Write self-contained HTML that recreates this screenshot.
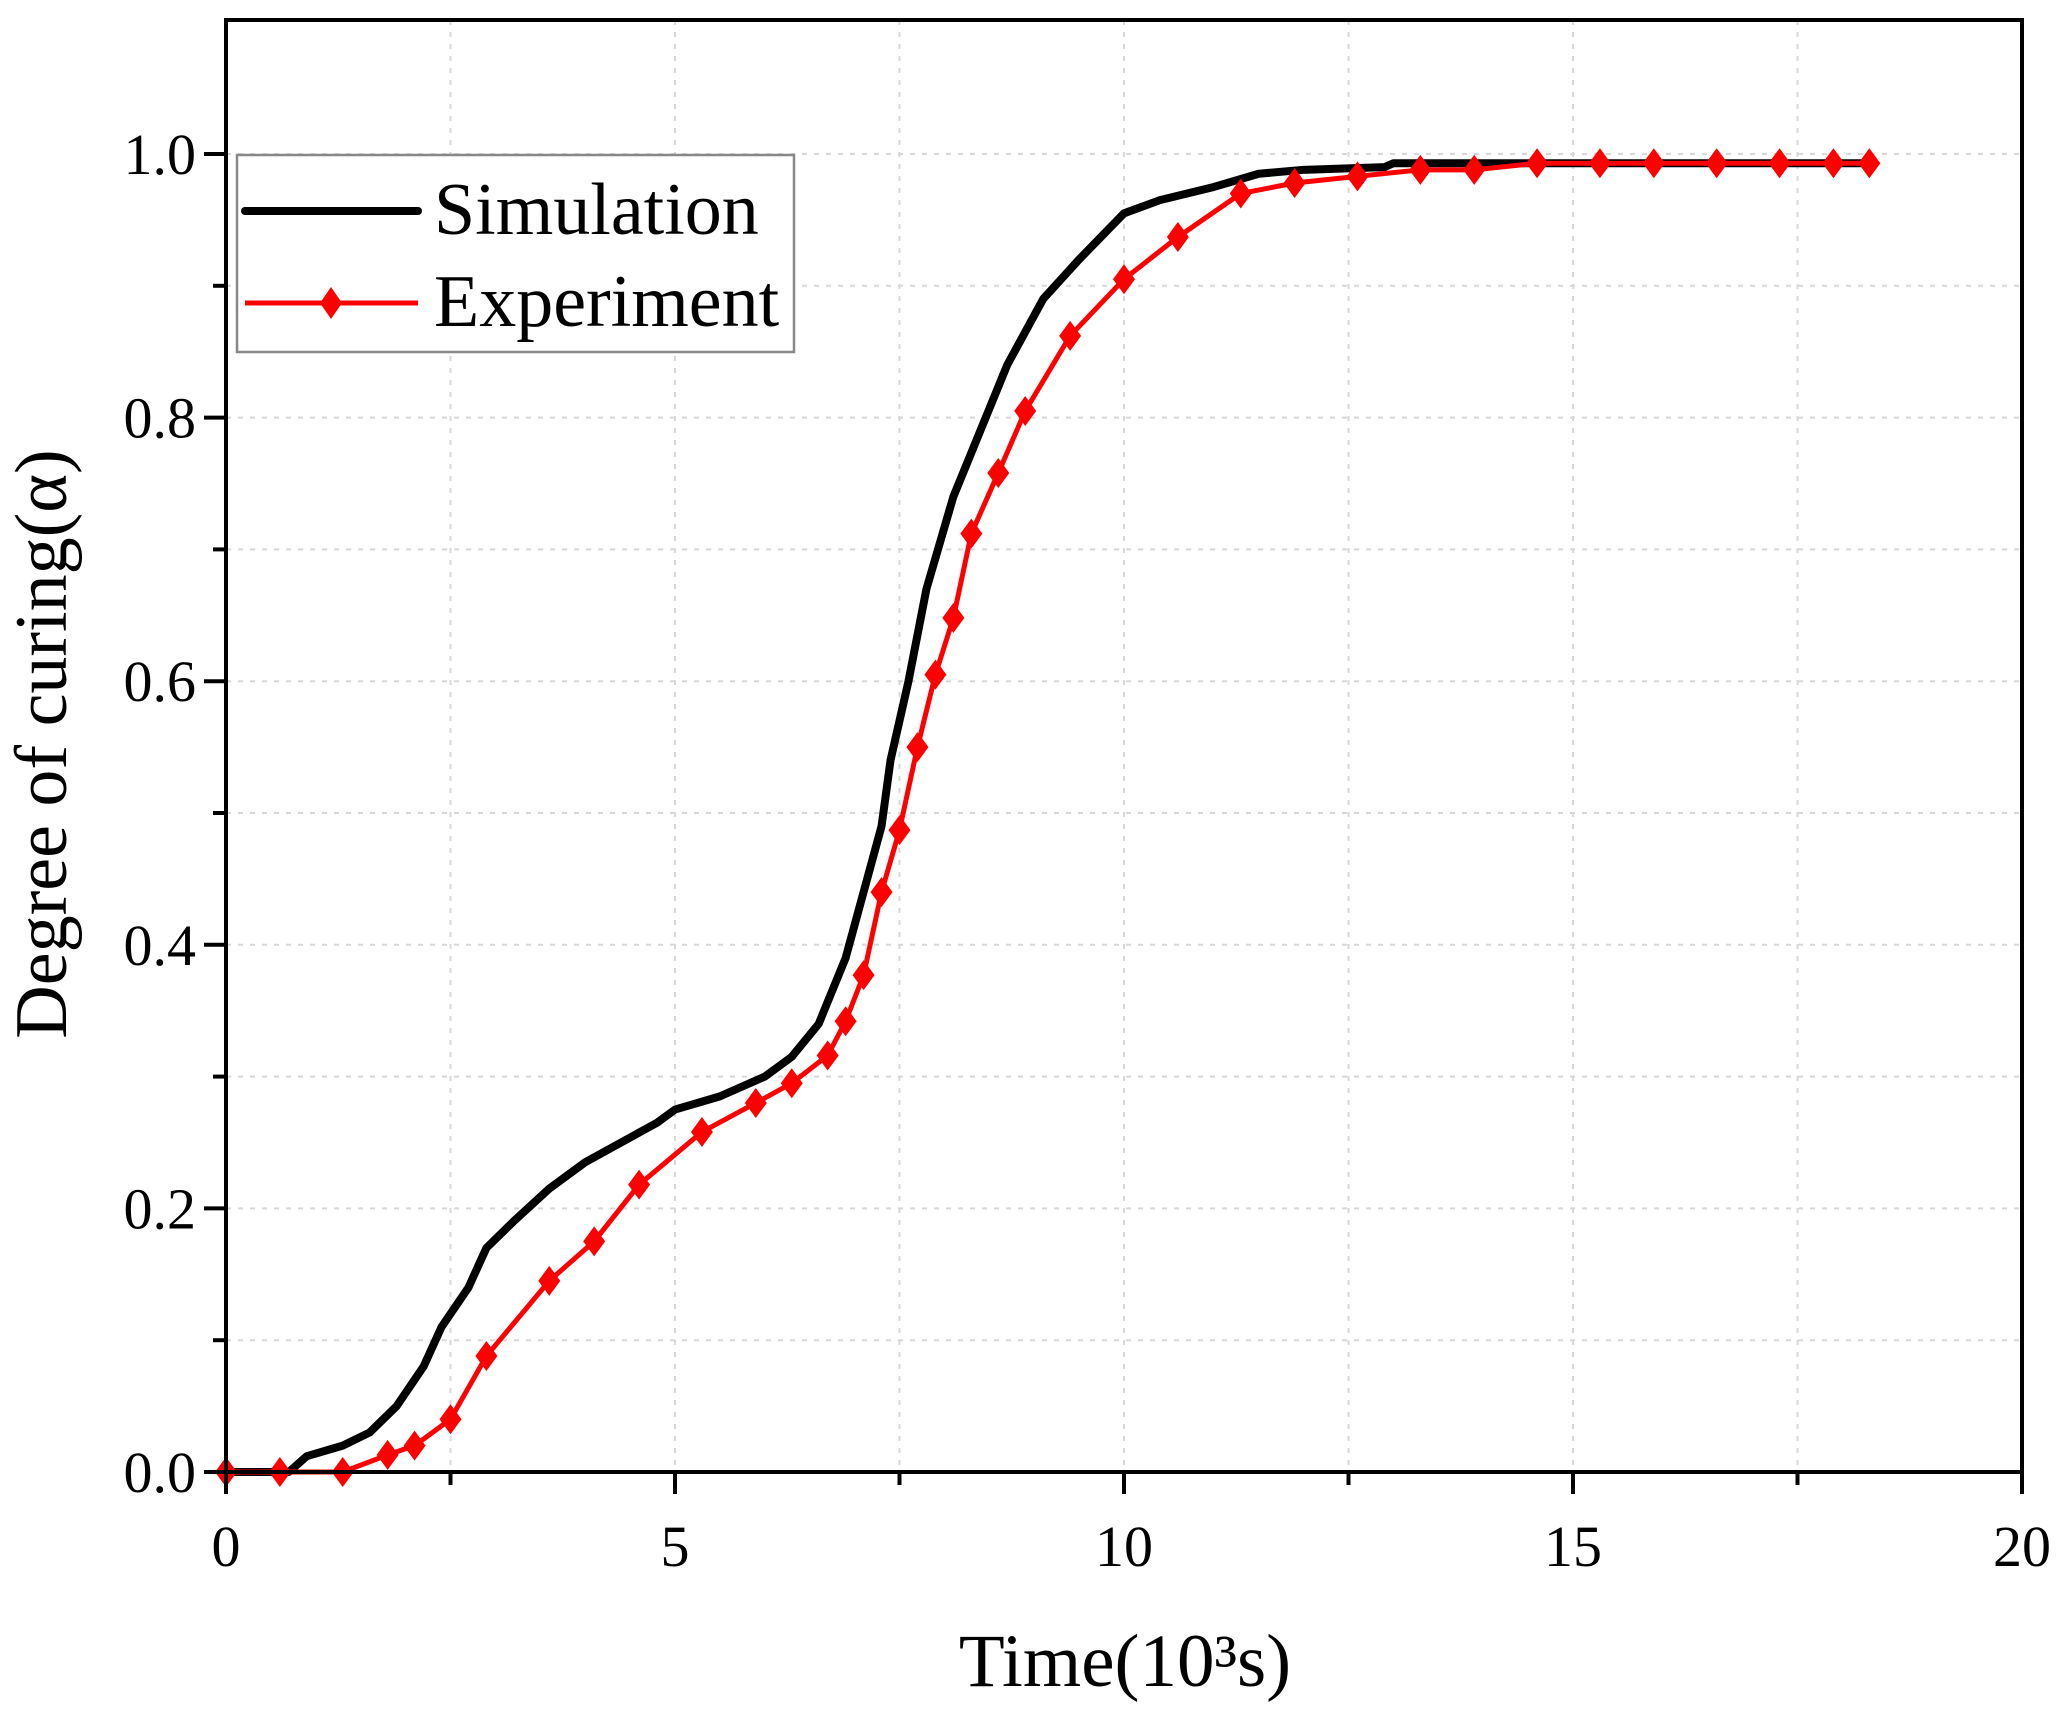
<!DOCTYPE html>
<html><head><meta charset="utf-8"><style>
html,body{margin:0;padding:0;background:#fff;}
svg text{font-family:"Liberation Serif",serif;fill:#000;}
</style></head><body>
<svg id="chart" width="2064" height="1714" viewBox="0 0 2064 1714" xmlns="http://www.w3.org/2000/svg">
<g id="grid"></g>
<g id="series"></g>
<g id="axes"></g>
<text x="1125" y="1686" font-size="75" text-anchor="middle">Time(10³s)</text>
<text transform="translate(66,744) rotate(-90)" font-size="74" text-anchor="middle">Degree of curing(α)</text>
<g>
<rect x="237" y="155" width="557" height="197" fill="#fff" stroke="#888" stroke-width="2.5"/>
<line x1="245" y1="211" x2="418" y2="211" stroke="#000" stroke-width="8" stroke-linecap="round"/>
<text x="434" y="234" font-size="74">Simulation</text>
<line x1="245" y1="303" x2="418" y2="303" stroke="#f00" stroke-width="5"/>
<path d="M331 287 L342 303 L331 319 L320 303 Z" fill="#f00"/>
<text x="434" y="326" font-size="74">Experiment</text>
</g>
</svg>
<script>
const xTicks=[0,5,10,15,20];
const yTicks=[0.0,0.2,0.4,0.6,0.8,1.0];
const simX=[0,0.7,0.9,1.3,1.6,1.9,2.2,2.4,2.7,2.9,3.2,3.6,4,4.4,4.8,5,5.5,6,6.3,6.6,6.9,7.1,7.3,7.4,7.6,7.8,8.1,8.4,8.7,9.1,9.5,10,10.4,11,11.5,12,12.9,13,18.3];
const simY=[0,0,0.012,0.02,0.03,0.05,0.08,0.11,0.14,0.17,0.19,0.215,0.235,0.25,0.265,0.275,0.285,0.3,0.315,0.34,0.39,0.44,0.49,0.54,0.6,0.67,0.74,0.79,0.84,0.89,0.92,0.955,0.965,0.975,0.985,0.988,0.99,0.993,0.993];
const expX=[0,0.6,1.3,1.8,2.1,2.5,2.9,3.6,4.1,4.6,5.3,5.9,6.3,6.7,6.9,7.1,7.3,7.5,7.7,7.9,8.1,8.3,8.6,8.9,9.4,10,10.6,11.3,11.9,12.6,13.3,13.9,14.6,15.3,15.9,16.6,17.3,17.9,18.3];
const expY=[0,0,0,0.013,0.02,0.04,0.088,0.145,0.175,0.218,0.258,0.28,0.295,0.316,0.342,0.377,0.44,0.487,0.55,0.605,0.648,0.712,0.758,0.805,0.862,0.905,0.937,0.97,0.978,0.983,0.988,0.988,0.993,0.993,0.993,0.993,0.993,0.993,0.993];
const L=226,R=2022,T=20,B=1472,Y1=154;
const sx=v=>L+(R-L)*v/20;
const sy=v=>B-(B-Y1)*v;
const NS="http://www.w3.org/2000/svg";
function mk(tag,attrs,parent){const e=document.createElementNS(NS,tag);for(const k in attrs)e.setAttribute(k,attrs[k]);parent.appendChild(e);return e;}
const grid=document.getElementById('grid'),axes=document.getElementById('axes'),ser=document.getElementById('series');
for(let v=2.5;v<20;v+=2.5){const g=mk('line',{x1:sx(v),x2:sx(v),y1:T,y2:B,stroke:'#d8d8d8','stroke-width':2,'stroke-dasharray':'5,7'},grid);

}
for(let k=1;k<=10;k++){const v=k/10;const g=mk('line',{x1:L,x2:R,y1:sy(v),y2:sy(v),stroke:'#d8d8d8','stroke-width':2,'stroke-dasharray':'5,7'},grid);

}
const fr=mk('rect',{x:L,y:T,width:R-L,height:B-T,fill:'none',stroke:'#000','stroke-width':4},axes);


for(let v=0;v<=20;v+=2.5){const major=v%5===0;const t=mk('line',{x1:sx(v),x2:sx(v),y1:B,y2:B+(major?22:13),stroke:'#000','stroke-width':4},axes);

}
xTicks.forEach(v=>{const t=mk('text',{x:sx(v),y:1566,'font-size':58,'text-anchor':'middle'},axes);t.textContent=String(v);

});
for(let k=0;k<=10;k++){const v=k/10;const major=k%2===0;const t=mk('line',{x1:L-(major?22:13),x2:L,y1:sy(v),y2:sy(v),stroke:'#000','stroke-width':4},axes);

}
yTicks.forEach(v=>{const t=mk('text',{x:L-30,y:sy(v)+20,'font-size':58,'text-anchor':'end'},axes);t.textContent=v.toFixed(1);

});
const sp=mk('polyline',{points:simX.map((x,i)=>sx(x)+','+sy(simY[i])).join(' '),fill:'none',stroke:'#000','stroke-width':8,'stroke-linejoin':'round'},ser);


const ep=mk('polyline',{points:expX.map((x,i)=>sx(x)+','+sy(expY[i])).join(' '),fill:'none',stroke:'#f00','stroke-width':5},ser);


expX.forEach((x,i)=>{const cx=sx(x),cy=sy(expY[i]);const m=mk('path',{d:`M${cx} ${cy-15} L${cx+11} ${cy} L${cx} ${cy+15} L${cx-11} ${cy} Z`,fill:'#f00'},ser);

});
</script>
</body></html>
